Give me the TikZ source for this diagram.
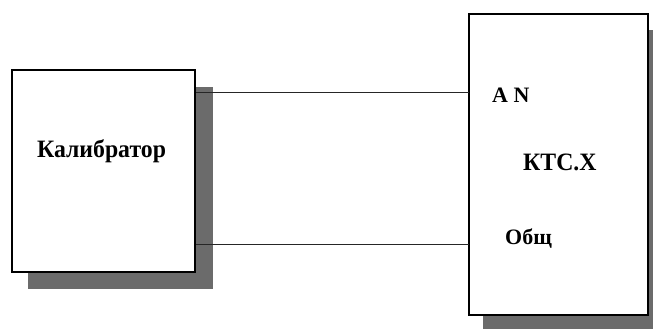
\documentclass[tikz,border=0pt]{standalone}
\usepackage{fontspec}
\setmainfont{Liberation Serif}
\usepackage{tikz}
\usetikzlibrary{positioning,calc}

\tikzset{
  blok/.style={draw=black,line width=2pt,fill=white,inner sep=0pt},
  ten/.style={fill=black!58},
  provod/.style={black!85,line width=0.8pt},
  metka/.style={font=\bfseries\fontsize{25}{27}\selectfont,inner sep=0pt,xscale=0.95,anchor=base west},
  metkam/.style={metka,font=\bfseries\fontsize{22}{24}\selectfont,xscale=1.05}
}

\begin{document}
\begin{tikzpicture}[x=1pt,y=-1pt]
\useasboundingbox (0,0) rectangle (653,329);
% тени
\fill[ten] (28,87) rectangle (213,289);
\fill[ten] (483,30) rectangle (665,335);
% блоки
\node[blok,minimum width=183pt,minimum height=202pt] (kal) at (103.5,171) {};
\node[blok,minimum width=179pt,minimum height=301pt] (kts) at (558.5,164.5) {};
\node[metka] (kalt) at (37,157) {Калибратор};
\node[metkam] (an) at (492,102) {A N};
\node[metka] (ktsx) at (523,170) {КТС.Х};
\node[metkam] (obsh) at (505,244) {Общ};
% провода
\coordinate (vhA) at (469,92);
\coordinate (vhO) at (469,244);
\draw[provod] (kal.east |- vhA) -- (vhA);
\draw[provod] (kal.east |- vhO) -- (vhO);
\end{tikzpicture}
\end{document}
